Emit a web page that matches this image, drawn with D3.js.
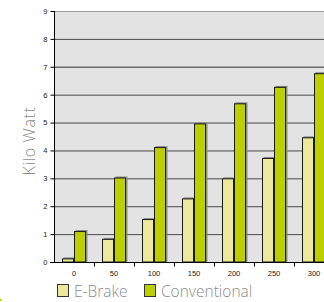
<!DOCTYPE html>
<html>
<head>
<meta charset="utf-8">
<script src="https://cdn.jsdelivr.net/npm/d3@7.9.0/dist/d3.min.js"></script>
<style>
  body { margin: 0; background: #fff; }
  svg { display: block; }
</style>
</head>
<body>
<svg id="chart" width="324" height="302"></svg>
<script>
const speeds = ['0', '50', '100', '150', '200', '250', '300'];
const eBrake = [0.13, 0.83, 1.54, 2.28, 3.0, 3.73, 4.47];
const conventional = [1.11, 3.03, 4.12, 4.97, 5.69, 6.28, 6.77];
const yTicks = [0, 1, 2, 3, 4, 5, 6, 7, 8, 9];
const seriesNames = ['E-Brake', 'Conventional'];
const seriesColors = ['#ece99c', '#bccf00'];

const svg = d3.select('#chart');
const plotLeft = 54, plotTop = 11, plotBottom = 262;

// 8 bands so the last one runs off the edge, like the original crop
const x = d3.scaleBand().domain(speeds.concat(['_'])).range([plotLeft, plotLeft + 320]);
const y = d3.scaleLinear().domain([0, 9]).range([plotBottom, plotTop]);
const inner = d3.scaleBand().domain(seriesNames).range([8, 32]);

// plot background
svg.append('rect')
  .attr('x', plotLeft).attr('y', plotTop)
  .attr('width', 324 - plotLeft).attr('height', plotBottom - plotTop)
  .attr('fill', '#e3e3e3');

// grid lines
svg.append('g').selectAll('line')
  .data(yTicks.filter(d => d > 0))
  .join('line')
  .attr('x1', plotLeft).attr('x2', 324)
  .attr('y1', d => y(d) + 0.5).attr('y2', d => y(d) + 0.5)
  .attr('stroke', d => d === 9 ? '#9a9a9a' : (d === 7 ? '#6a6a6a' : '#4a4a4a'))
  .attr('stroke-width', d => d === 7 ? 1.6 : 1);

// bars
const rows = speeds.map((s, i) => ({ s, vals: [eBrake[i], conventional[i]] }));
const groups = svg.append('g').selectAll('g')
  .data(rows)
  .join('g')
  .attr('transform', d => `translate(${x(d.s)},0)`);

groups.each(function (d) {
  const g = d3.select(this);
  seriesNames.forEach((name, k) => {
    const v = d.vals[k];
    const bx = inner(name);
    const bw = inner.bandwidth();
    // shadow
    g.append('rect')
      .attr('x', bx + 1.5).attr('y', y(v) - 1)
      .attr('width', bw).attr('height', plotBottom - y(v) + 1)
      .attr('fill', '#8a8a8a');
    g.append('rect')
      .attr('x', bx + 0.5).attr('y', y(v) + 0.5)
      .attr('width', bw - 1).attr('height', plotBottom - y(v) - 0.5)
      .attr('fill', seriesColors[k])
      .attr('stroke', '#1a1a1a').attr('stroke-width', 1);
  });
});

// y axis
const yAxis = d3.axisLeft(y).tickValues(yTicks).tickSize(4).tickPadding(3);
const ya = svg.append('g').attr('transform', `translate(${plotLeft + 0.5},0)`).call(yAxis);
ya.select('.domain').attr('stroke', '#000').attr('d', `M0,${plotTop}V${plotBottom}`);
ya.selectAll('.tick line').attr('stroke', '#000');
ya.selectAll('.tick text')
  .attr('font-family', 'Arial, "Liberation Sans", sans-serif')
  .attr('font-size', 7.5).attr('fill', '#1a1a1a');

// x axis: ticks on band edges, labels on band centers
const xa = svg.append('g').attr('transform', `translate(0,${plotBottom + 0.5})`);
xa.append('line').attr('x1', plotLeft - 4).attr('x2', 324).attr('stroke', '#000');
xa.selectAll('.xt')
  .data(speeds)
  .join('line')
  .attr('class', 'xt')
  .attr('x1', d => x(d) + x.bandwidth() + 0.5).attr('x2', d => x(d) + x.bandwidth() + 0.5)
  .attr('y1', 0).attr('y2', 4)
  .attr('stroke', '#000');
xa.selectAll('text')
  .data(speeds)
  .join('text')
  .attr('x', d => x(d) + x.bandwidth() / 2)
  .attr('y', 13)
  .attr('text-anchor', 'middle')
  .attr('font-family', 'Arial, "Liberation Sans", sans-serif')
  .attr('font-size', 7.5).attr('fill', '#1a1a1a')
  .text(d => d);

// y title
svg.append('text')
  .attr('transform', `translate(35,141) rotate(-90)`)
  .attr('text-anchor', 'middle')
  .attr('font-family', '"Open Sans", sans-serif')
  .attr('font-weight', 300)
  .attr('font-size', 16).attr('letter-spacing', 0.6).attr('fill', '#8c8c8c')
  .text('Kilo Watt');

// legend
const legendX = [57, 144];
const legend = svg.append('g').selectAll('g')
  .data(seriesNames)
  .join('g')
  .attr('transform', (d, i) => `translate(${legendX[i]},284)`);
legend.append('rect')
  .attr('x', 0.5).attr('y', 0.5).attr('width', 11).attr('height', 12)
  .attr('fill', (d, i) => seriesColors[i])
  .attr('stroke', '#333');
legend.append('text')
  .attr('x', 17).attr('y', 12.5)
  .attr('font-family', '"Open Sans", sans-serif')
  .attr('font-weight', 300)
  .attr('font-size', 15.5).attr('fill', '#8c8c8c')
  .text(d => d);

// tiny green mark at bottom-left corner of the original
svg.append('rect').attr('x', 0).attr('y', 299).attr('width', 1.5).attr('height', 2).attr('fill', '#bccf00');
</script>
</body>
</html>
